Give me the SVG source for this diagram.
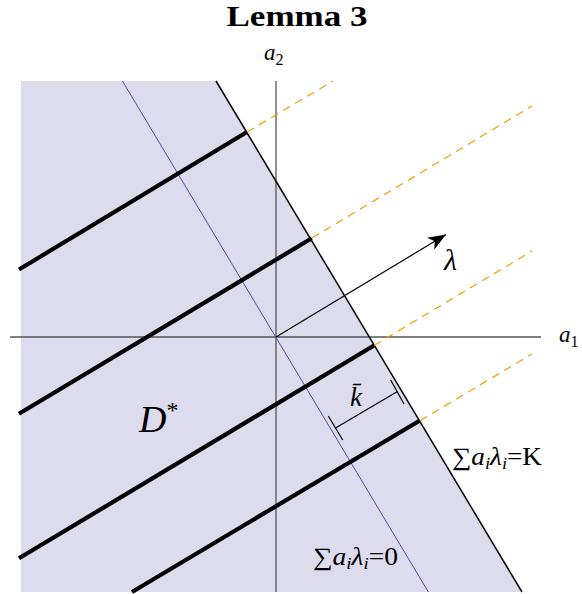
<svg xmlns="http://www.w3.org/2000/svg" width="582" height="594" viewBox="0 0 582 594">
<defs>
<style>
.serif{font-family:"Liberation Serif","DejaVu Serif",serif;fill:#000}
.it{font-style:italic}
.thick{stroke:#000;stroke-width:4.2;fill:none}
.dash{stroke:#FF9900;stroke-width:1.2;stroke-dasharray:8 6;fill:none}
.axis{stroke:#555;stroke-width:1.3;fill:none}
</style>
<marker id="arr" markerWidth="20" markerHeight="14" refX="18" refY="7" orient="auto" markerUnits="userSpaceOnUse">
<path d="M0,0 L18,7 L0,14 L5,7 Z" fill="#000"/>
</marker>
</defs>
<rect width="582" height="594" fill="#fff"/>
<g id="region">
<polygon points="21,81 216,81 522,592 21,592" fill="#DCDCEE"/>
</g>
<g id="connectors">
<line class="axis" x1="276" y1="81" x2="276" y2="592"/>
<line class="axis" x1="10" y1="337" x2="541" y2="337"/>
<line x1="122.4" y1="81" x2="428.4" y2="592" stroke="#4B4BA8" stroke-width="1"/>
<line x1="216" y1="81" x2="522" y2="592" stroke="#000" stroke-width="1.5"/>
<line class="thick" x1="19" y1="269.5" x2="247" y2="132"/>
<line class="thick" x1="19" y1="413.8" x2="311.7" y2="238.3"/>
<line class="thick" x1="19" y1="558.3" x2="374" y2="345.5"/>
<line class="thick" x1="132" y1="592" x2="419.5" y2="420.7"/>
<line class="dash" x1="247" y1="132" x2="333" y2="81"/>
<line class="dash" x1="312" y1="238" x2="532" y2="106"/>
<line class="dash" x1="374" y1="345.5" x2="532" y2="251"/>
<line class="dash" x1="420" y1="420.7" x2="532" y2="354"/>
<line x1="276" y1="337" x2="446" y2="234.5" stroke="#000" stroke-width="1.2" marker-end="url(#arr)"/>
<g id="kbar" stroke="#000" stroke-width="1.2">
<line x1="335.5" y1="428" x2="397.5" y2="391.5"/>
<line x1="328.3" y1="416" x2="342.7" y2="440"/>
<line x1="390.7" y1="380" x2="404" y2="404"/>
</g>
</g>
<g id="labels">
<text class="serif" x="297" y="26" font-size="30" font-weight="bold" text-anchor="middle" textLength="141" lengthAdjust="spacingAndGlyphs">Lemma 3</text>
<text class="serif" x="264" y="60" font-size="23"><tspan class="it">a</tspan><tspan font-size="16" dy="5">2</tspan></text>
<text class="serif" x="559" y="342" font-size="23"><tspan class="it">a</tspan><tspan font-size="16" dy="5">1</tspan></text>
<text class="serif it" x="444" y="270" font-size="30">λ</text>
<text class="serif" x="139" y="432" font-size="38"><tspan class="it">D</tspan><tspan font-size="24" dy="-14">*</tspan></text>
<text class="serif it" x="350" y="406" font-size="27">k̄</text>
<text class="serif" x="452" y="465" font-size="25" textLength="90" lengthAdjust="spacingAndGlyphs"><tspan>∑</tspan><tspan class="it">a</tspan><tspan class="it" font-size="17" dy="4">i</tspan><tspan class="it" dy="-4">λ</tspan><tspan class="it" font-size="17" dy="4">i</tspan><tspan dy="-4">=K</tspan></text>
<text class="serif" x="313" y="565" font-size="25" textLength="85" lengthAdjust="spacingAndGlyphs"><tspan>∑</tspan><tspan class="it">a</tspan><tspan class="it" font-size="17" dy="4">i</tspan><tspan class="it" dy="-4">λ</tspan><tspan class="it" font-size="17" dy="4">i</tspan><tspan dy="-4">=0</tspan></text>
</g>
</svg>
